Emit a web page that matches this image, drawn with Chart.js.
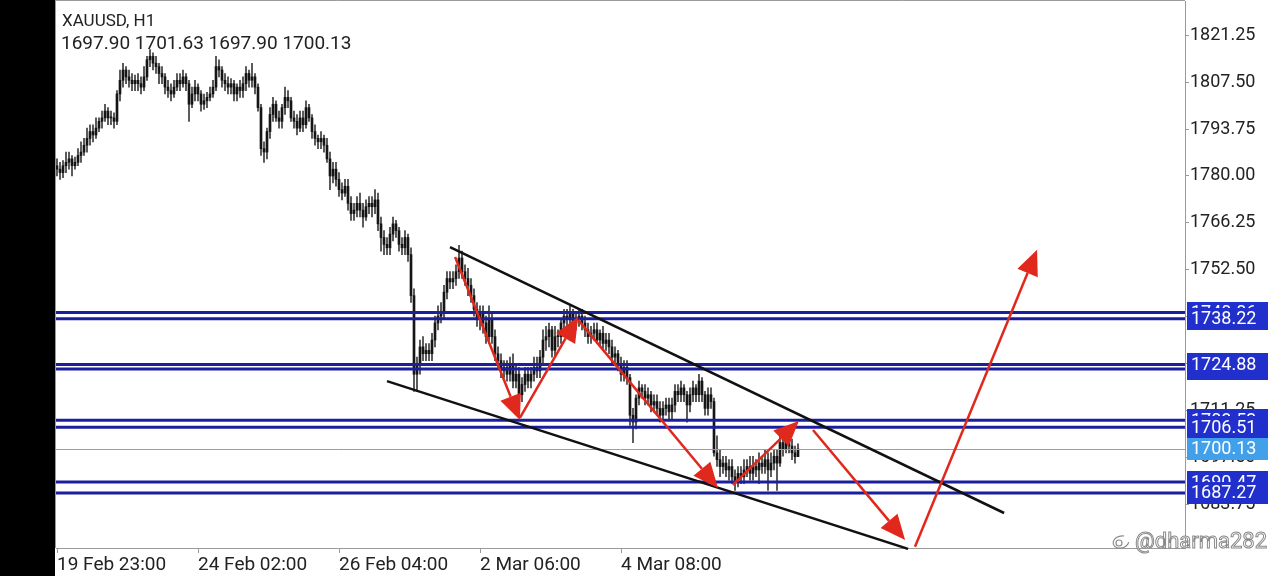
<!DOCTYPE html>
<html>
<head>
<meta charset="utf-8">
<script src="https://cdn.jsdelivr.net/npm/chart.js@4.4.1/dist/chart.umd.min.js"></script>
<style>
html,body{margin:0;padding:0;background:#fff;overflow:hidden}
canvas{display:block}
</style>
</head>
<body>
<canvas id="chart" width="1280" height="576"></canvas>
<script>
// XAUUSD H1 candles
const opens = [
 1783,1782,1781,1783,1784,1785,1783,1784,1786,1787,
 1789,1791,1793,1792,1794,1796,1797,1799,1797,1797,
 1796,1804,1808,1811,1809,1808,1807,1808,1807,1806,
 1809,1814,1815,1813,1812,1810,1809,1806,1805,1804,
 1806,1808,1807,1809,1807,1801,1804,1806,1804,1801,
 1802,1803,1804,1806,1812,1811,1808,1807,1806,1807,
 1804,1806,1805,1807,1810,1808,1809,1806,1800,1788,
 1787,1793,1798,1801,1797,1796,1800,1803,1802,1797,
 1796,1794,1797,1795,1800,1797,1793,1791,1790,1791,
 1789,1785,1780,1782,1779,1776,1775,1777,1772,1769,
 1770,1772,1770,1768,1771,1772,1771,1773,1766,1762,
 1760,1759,1763,1766,1764,1760,1759,1762,1757,1745,
 1722,1725,1730,1728,1729,1728,1732,1737,1739,1740,
 1746,1750,1749,1750,1752,1756,1752,1750,1748,1745,
 1741,1738,1740,1737,1733,1738,1733,1728,1726,1723,
 1724,1722,1725,1720,1722,1716,1719,1722,1720,1722,
 1724,1723,1727,1732,1733,1735,1729,1733,1733,1737,
 1739,1738,1740,1737,1738,1739,1737,1735,1733,1734,
 1735,1732,1734,1731,1732,1730,1727,1728,1725,1722,
 1724,1721,1710,1708,1715,1718,1717,1715,1716,1713,
 1714,1712,1710,1712,1713,1711,1713,1717,1716,1718,
 1716,1713,1716,1718,1716,1720,1716,1712,1716,1714,
 1699,1697,1695,1696,1694,1695,1692,1691,1693,1692,
 1694,1695,1693,1695,1694,1696,1695,1697,1694,1696,
 1698,1696,1702,1700,1703,1701,1699,1697.90
];
const highs = [
 1785,1784,1784.5,1787,1787,1786,1785.5,1788,1790,1791,
 1794,1795,1795,1797,1797,1799,1801,1800,1799,1798.5,
 1805,1811,1813,1812,1811,1810,1809.5,1810,1809,1812,
 1815,1817,1816,1815,1813,1812,1810,1808,1807,1808,
 1810,1810,1811,1810,1808,1806,1808,1807,1805,1804,
 1804.5,1806,1808,1815,1814,1812,1810,1809,1808.5,1808,
 1807,1808,1809,1812,1811,1813,1810,1807,1801,1790,
 1794,1800,1803,1802,1799,1801,1806,1805,1803,1799,
 1798,1799,1799,1802,1801,1798,1795,1792,1793,1792,
 1791,1787,1784,1784,1781,1778,1779,1779,1774,1772,
 1774,1775,1772,1773,1774,1774,1776,1775,1768,1764,
 1762,1765,1768,1767,1765,1762,1764,1763,1759,1747,
 1727,1732,1733,1731,1731,1734,1739,1742,1743,1748,
 1752,1752,1752,1754,1759.7,1758,1754,1753,1750,1747,
 1743,1742,1742,1739,1742,1740,1735,1730,1728,1726,
 1726,1727,1728,1725,1724,1721,1724,1724,1724,1727,
 1727,1729,1735,1736,1737,1736,1736,1735,1738,1741,
 1741,1742,1741,1740,1741,1741,1739,1737,1736,1737,
 1737,1735,1736,1734,1734,1732,1730,1729,1727,1726,
 1726,1722,1712,1716,1720,1719,1719,1718,1717,1716,
 1716,1714,1714,1715,1715,1715,1719,1719,1720,1719,
 1717,1718,1720,1719,1722,1721,1717,1718,1718,1715,
 1704,1700,1698,1698,1697,1697,1694,1695,1695,1697,
 1697,1698,1698,1697,1699,1698,1700,1699,1699,1700,
 1700,1706,1704,1705,1704,1703,1701,1701.63
];
const lows = [
 1780,1779,1779.5,1781,1782,1780,1782,1783,1784,1786,
 1787,1789,1790,1791,1793,1794,1796,1795,1795,1794,
 1795,1802,1806,1807,1806,1805,1805,1805,1804,1805,
 1808,1812,1811,1810,1807,1807,1804,1803,1802,1803,
 1805,1805,1806,1805,1796,1800,1802,1802,1799,1799.5,
 1800,1802,1803,1805,1809,1806,1805,1804,1804,1802,
 1802,1803,1803,1805,1806,1806,1804,1799,1786,1784,
 1785,1791,1796,1796,1794,1794,1798,1800,1796,1794,
 1792,1793,1793,1794,1796,1791,1789,1788,1788,1787,
 1784,1776,1778,1777,1774,1773,1774,1770,1767,1767,
 1768,1768,1765,1767,1769,1768,1769,1764,1758,1757,
 1757,1757,1761,1762,1758,1757,1757,1755,1743,1717,
 1717,1722,1726,1726,1726,1726,1730,1735,1737,1738,
 1744,1747,1747,1748,1750,1750,1748,1745,1743,1739,
 1736,1735,1734,1731,1731,1731,1726,1724,1721,1721,
 1720,1720,1718,1718,1713,1714,1717,1718,1718,1720,
 1721,1721,1725,1729,1730,1727,1727,1730,1731,1734,
 1736,1736,1735,1735,1736,1735,1733,1731,1731,1732,
 1731,1730,1729,1729,1728,1725,1725,1723,1720,1720,
 1719,1707,1702,1706,1713,1715,1713,1713,1711,1711,
 1710,1708,1708,1710,1709,1709,1711,1714,1714,1714,
 1708,1711,1714,1714,1714,1714,1710,1710,1712,1698,
 1695,1692,1693,1692,1691,1690,1688,1689,1690,1690,
 1692,1691,1691,1692,1690,1693,1693,1688,1692,1694,
 1688,1695,1698,1699,1699,1697,1696,1697.90
];
const closes = [
 1782,1781,1783,1784,1785,1783,1784,1786,1787,1789,
 1791,1793,1792,1794,1796,1797,1799,1797,1797,1796,
 1804,1808,1811,1809,1808,1807,1808,1807,1806,1809,
 1814,1815,1813,1812,1810,1809,1806,1805,1804,1806,
 1808,1807,1809,1807,1801,1804,1806,1804,1801,1802,
 1803,1804,1806,1812,1811,1808,1807,1806,1807,1804,
 1806,1805,1807,1810,1808,1809,1806,1800,1788,1787,
 1793,1798,1801,1797,1796,1800,1803,1802,1797,1796,
 1794,1797,1795,1800,1797,1793,1791,1790,1791,1789,
 1785,1780,1782,1779,1776,1775,1777,1772,1769,1770,
 1772,1770,1768,1771,1772,1771,1773,1766,1762,1760,
 1759,1763,1766,1764,1760,1759,1762,1757,1745,1722,
 1725,1730,1728,1729,1728,1732,1737,1739,1740,1746,
 1750,1749,1750,1752,1756,1752,1750,1748,1745,1741,
 1738,1740,1737,1733,1738,1733,1728,1726,1723,1724,
 1722,1725,1720,1722,1716,1719,1722,1720,1722,1724,
 1723,1727,1732,1733,1735,1729,1733,1733,1737,1739,
 1738,1740,1737,1738,1739,1737,1735,1733,1734,1735,
 1732,1734,1731,1732,1730,1727,1728,1725,1722,1724,
 1721,1710,1708,1715,1718,1717,1715,1716,1713,1714,
 1712,1710,1712,1713,1711,1713,1717,1716,1718,1716,
 1713,1716,1718,1716,1720,1716,1712,1716,1714,1699,
 1697,1695,1696,1694,1695,1692,1691,1693,1692,1694,
 1695,1693,1695,1694,1696,1695,1697,1694,1696,1698,
 1696,1702,1700,1703,1701,1699,1697.90,1700.13
];

const tickIdx = [0, 47, 94, 141, 188];
const tickLabels = ["19 Feb 23:00", "24 Feb 02:00", "26 Feb 04:00", "2 Mar 06:00", "4 Mar 08:00"];
const priceTicks = [1683.75, 1697.50, 1711.25, 1725.00, 1738.75, 1752.50, 1766.25, 1780.00, 1793.75, 1807.50, 1821.25];

// horizontal levels, drawn in this order (later ones cover the earlier labels)
const levels = [1740.06, 1738.22, 1723.53, 1724.88, 1708.53, 1706.51, 1690.47, 1687.27];
const lastPrice = 1700.13;

// channel lines and arrows: [barIndex1, price1, barIndex2, price2]
const trendLines = [
  [131, 1759.2, 315.7, 1681.4],
  [110, 1720.0, 283.7, 1670.9]
];
const arrows = [
  [132.7, 1756.3, 154.3, 1708.6],
  [154.3, 1709.2, 173.7, 1738.8],
  [173.7, 1737.9, 220.3, 1688.7],
  [225.3, 1689.6, 247.3, 1708.3],
  [252.0, 1705.7, 282.7, 1673.5],
  [286.0, 1671.5, 326.7, 1758.4]
];

const FONT = "Roboto, 'Noto Sans', sans-serif";

function drawArrow(ctx, x1, y1, x2, y2) {
  const ang = Math.atan2(y2 - y1, x2 - x1);
  const len = 25, half = 11;
  const bx = x2 - Math.cos(ang) * len, by = y2 - Math.sin(ang) * len;
  ctx.beginPath();
  ctx.moveTo(x1, y1);
  ctx.lineTo(bx, by);
  ctx.stroke();
  ctx.beginPath();
  ctx.moveTo(x2, y2);
  ctx.lineTo(bx + Math.sin(ang) * half, by - Math.cos(ang) * half);
  ctx.lineTo(bx - Math.sin(ang) * half, by + Math.cos(ang) * half);
  ctx.closePath();
  ctx.fill();
}

const overlay = {
  id: "overlay",
  beforeDraw(chart) {
    const ctx = chart.ctx;
    ctx.save();
    ctx.fillStyle = "#fff";
    ctx.fillRect(0, 0, chart.width, chart.height);
    ctx.fillStyle = "#000";
    ctx.fillRect(0, 0, 55, chart.height);
    ctx.restore();
  },
  afterDatasetsDraw(chart) {
    const {ctx, chartArea: a, scales: {x, y}} = chart;
    ctx.save();
    ctx.beginPath();
    ctx.rect(a.left, a.top, a.right - a.left, a.bottom - a.top + 2);
    ctx.clip();

    // current price line
    ctx.strokeStyle = "#62afcf";
    ctx.lineWidth = 1;
    const yl = Math.round(y.getPixelForValue(lastPrice)) + 0.5;
    ctx.beginPath(); ctx.moveTo(a.left, yl); ctx.lineTo(a.right, yl); ctx.stroke();

    // support / resistance levels
    ctx.strokeStyle = "#1b1f9e";
    ctx.lineWidth = 3;
    levels.forEach(v => {
      const yy = y.getPixelForValue(v);
      ctx.beginPath(); ctx.moveTo(a.left, yy); ctx.lineTo(a.right, yy); ctx.stroke();
    });

    // channel
    ctx.strokeStyle = "#111";
    ctx.lineWidth = 2.5;
    trendLines.forEach(t => {
      ctx.beginPath();
      ctx.moveTo(x.getPixelForValue(t[0]), y.getPixelForValue(t[1]));
      ctx.lineTo(x.getPixelForValue(t[2]), y.getPixelForValue(t[3]));
      ctx.stroke();
    });

    // red arrows
    ctx.strokeStyle = "#e0281c";
    ctx.fillStyle = "#e0281c";
    ctx.lineWidth = 2.5;
    arrows.forEach(r => {
      drawArrow(ctx, x.getPixelForValue(r[0]), y.getPixelForValue(r[1]),
                     x.getPixelForValue(r[2]), y.getPixelForValue(r[3]));
    });
    ctx.restore();
  },
  afterDraw(chart) {
    const {ctx, chartArea: a, scales: {y}} = chart;
    ctx.save();
    // frame
    ctx.strokeStyle = "#9a9a9a";
    ctx.lineWidth = 1;
    ctx.beginPath();
    ctx.moveTo(55, 0.5); ctx.lineTo(a.right, 0.5);
    ctx.moveTo(55.5, 0); ctx.lineTo(55.5, a.bottom);
    ctx.stroke();

    // price tags on the right axis
    ctx.font = "18px " + FONT;
    ctx.textBaseline = "middle";
    ctx.textAlign = "left";
    const tag = (v, bg) => {
      const yy = y.getPixelForValue(v);
      ctx.fillStyle = bg;
      ctx.fillRect(a.right + 2, Math.round(yy - 11), 81, 22);
      ctx.fillStyle = "#fff";
      ctx.fillText(v.toFixed(2), a.right + 6, yy + 1);
    };
    levels.forEach(v => tag(v, "#2130cc"));
    tag(lastPrice, "#42a0ea");

    // header
    ctx.fillStyle = "#222";
    ctx.textBaseline = "alphabetic";
    ctx.font = "17px " + FONT;
    ctx.fillText("XAUUSD, H1", 62, 26);
    ctx.font = "19px " + FONT;
    const last = opens.length - 1;
    ctx.fillText([opens[last], highs[last], lows[last], closes[last]].map(v => v.toFixed(2)).join(" "), 61, 49);

    // watermark
    ctx.strokeStyle = "#8a8a8a";
    ctx.lineWidth = 1.2;
    ctx.beginPath();
    ctx.ellipse(1121, 542, 8, 6, -0.3, 0.4, Math.PI * 1.7);
    ctx.stroke();
    ctx.beginPath();
    ctx.arc(1119, 543, 3, 0, Math.PI * 2);
    ctx.stroke();
    ctx.font = "22px " + FONT;
    ctx.fillStyle = "rgba(255,255,255,0.85)";
    ctx.fillText("@dharma282", 1135, 548);
    ctx.lineWidth = 1;
    ctx.strokeText("@dharma282", 1135, 548);
    ctx.restore();
  }
};

const idx = closes.map((c, i) => i);
const ctx = document.getElementById("chart").getContext("2d");
new Chart(ctx, {
  type: "bar",
  data: {
    datasets: [
      {
        label: "wick",
        data: idx.map(i => ({x: i, y: [lows[i], highs[i]]})),
        backgroundColor: "#3a3a3a",
        barThickness: 1,
        grouped: false,
        order: 2
      },
      {
        label: "body",
        data: idx.map(i => ({x: i, y: [opens[i], closes[i]]})),
        backgroundColor: "#151515",
        barThickness: 2,
        minBarLength: 1,
        grouped: false,
        order: 1
      }
    ]
  },
  options: {
    responsive: false,
    animation: false,
    devicePixelRatio: 1,
    layout: {padding: {left: 56, top: 1, right: 0, bottom: 0}},
    plugins: {legend: {display: false}, tooltip: {enabled: false}},
    scales: {
      x: {
        type: "linear",
        offset: false,
        min: -1 / 3,
        max: 376,
        grid: {drawOnChartArea: false, offset: false, tickLength: 5, color: "#9a9a9a"},
        border: {color: "#9a9a9a"},
        afterBuildTicks: s => { s.ticks = tickIdx.map(v => ({value: v})); },
        afterFit: s => { s.height = 28; s.paddingLeft = 0; s.paddingRight = 0; },
        ticks: {
          autoSkip: false,
          maxRotation: 0,
          align: "start",
          padding: 1,
          color: "#222",
          font: {family: FONT, size: 19},
          callback: v => { const k = tickIdx.indexOf(v); return k >= 0 ? tickLabels[k] : ""; }
        }
      },
      y: {
        position: "right",
        min: 1671.16,
        max: 1831.2,
        grid: {drawOnChartArea: false, tickLength: 4, color: "#9a9a9a"},
        border: {color: "#9a9a9a"},
        afterBuildTicks: s => { s.ticks = priceTicks.map(v => ({value: v})); },
        afterFit: s => { s.width = 95; s.paddingTop = 0; s.paddingBottom = 0; },
        ticks: {
          padding: 1,
          color: "#222",
          font: {family: FONT, size: 18},
          callback: v => v.toFixed(2)
        }
      }
    }
  },
  plugins: [overlay]
});
</script>
</body>
</html>
